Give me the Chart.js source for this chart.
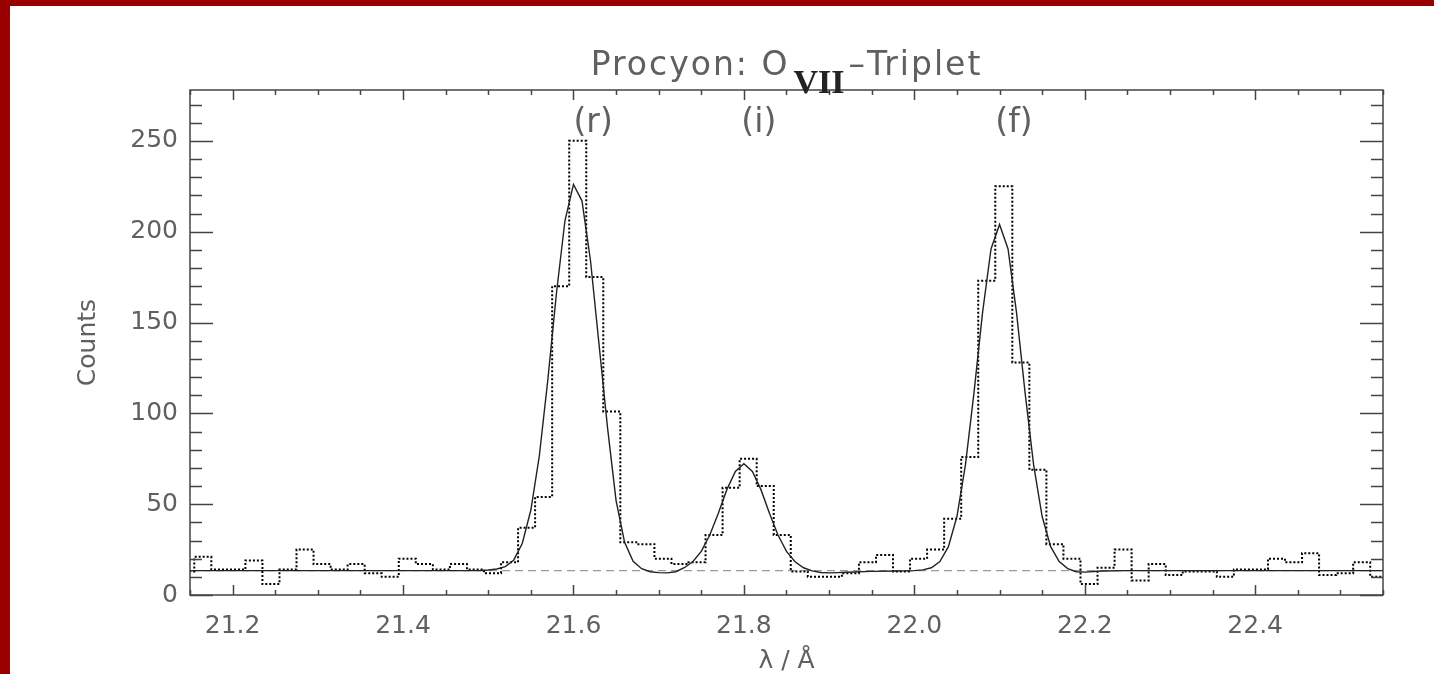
<!DOCTYPE html>
<html>
<head>
<meta charset="utf-8">
<script src="https://cdn.jsdelivr.net/npm/chart.js@4.4.1/dist/chart.umd.min.js"></script>
<style>
  html, body { margin: 0; padding: 0; background: #990000; width: 1434px; height: 674px; overflow: hidden; }
  #wrap { position: absolute; left: 10px; top: 6px; width: 1424px; height: 668px; background: #ffffff; }
  canvas { display: block; }
</style>
</head>
<body>
<div id="wrap"><canvas id="c"></canvas></div>
<script>
// ---------- data ----------
const binCenters = [
  21.145, 21.165, 21.185, 21.205, 21.225, 21.245, 21.265, 21.285, 21.305, 21.325,
  21.345, 21.365, 21.385, 21.405, 21.425, 21.445, 21.465, 21.485, 21.505, 21.525,
  21.545, 21.565, 21.585, 21.605, 21.625, 21.645, 21.665, 21.685, 21.705, 21.725,
  21.745, 21.765, 21.785, 21.805, 21.825, 21.845, 21.865, 21.885, 21.905, 21.925,
  21.945, 21.965, 21.985, 22.005, 22.025, 22.045, 22.065, 22.085, 22.105, 22.125,
  22.145, 22.165, 22.185, 22.205, 22.225, 22.245, 22.265, 22.285, 22.305, 22.325,
  22.345, 22.365, 22.385, 22.405, 22.425, 22.445, 22.465, 22.485, 22.505, 22.525,
  22.545
];
const counts = [
  13, 21, 14, 14, 19, 6, 14, 25, 17, 14,
  17, 12, 10, 20, 17, 14, 17, 14, 12, 18,
  37, 54, 170, 250, 175, 101, 29, 28, 20, 17,
  18, 33, 59, 75, 60, 33, 13, 10, 10, 12,
  18, 22, 13, 20, 25, 42, 76, 173, 225, 128,
  69, 28, 20, 6, 15, 25, 8, 17, 11, 13,
  13, 10, 14, 14, 20, 18, 23, 11, 12, 18,
  10
];
const binWidth = 0.02;

const fitX = [
  21.15, 21.49, 21.50, 21.51, 21.52, 21.53, 21.54, 21.55, 21.56, 21.57,
  21.58, 21.59, 21.60, 21.61, 21.62, 21.63, 21.64, 21.65, 21.66, 21.67,
  21.68, 21.69, 21.70, 21.71, 21.72, 21.73, 21.74, 21.75, 21.76, 21.77,
  21.78, 21.79, 21.80, 21.81, 21.82, 21.83, 21.84, 21.85, 21.86, 21.87,
  21.88, 21.89, 21.90, 21.91, 21.92, 21.95, 21.98, 22.00, 22.01, 22.02,
  22.03, 22.04, 22.05, 22.06, 22.07, 22.08, 22.09, 22.10, 22.11, 22.12,
  22.13, 22.14, 22.15, 22.16, 22.17, 22.18, 22.19, 22.20, 22.22, 22.25,
  22.55
];
const fitY = [
  13.4, 13.5, 13.8, 14.3, 15.6, 19.3, 28.5, 46.8, 76.8, 118.8,
  166, 206, 226, 217, 184, 138, 92, 52, 29, 18.5,
  14.5, 12.8, 12.3, 12.2, 12.8, 15.0, 18.3, 24, 33, 45,
  58, 68, 72.3, 68, 58, 45, 33, 24, 18.3, 15.0,
  13.3, 12.4, 12.2, 12.3, 12.5, 13.0, 13.2, 13.4, 13.8, 15.0,
  18.4, 26.6, 43.2, 71.6, 111.3, 155.2, 190.5, 204, 190.5, 155.2,
  111.3, 71.6, 43.2, 26.6, 18.4, 14.5, 12.8, 12.6, 13.2, 13.4,
  13.4
];

const continuumX = [21.15, 22.55];
const continuumY = [13.4, 13.4];

const xTickLabels = [21.2, 21.4, 21.6, 21.8, 22.0, 22.2, 22.4];
const yTickLabels = [0, 50, 100, 150, 200, 250];
const xMinorStep = 0.05;
const yMinorStep = 10;

const lineLabels = ['(r)', '(i)', '(f)'];
const lineLabelX = [21.600, 21.797, 22.095];
const lineLabelY = [255, 255, 255];

const titleMain = 'Procyon: O';
const titleSub = 'VII';
const titleRest = '\u2013Triplet';

// ---------- build ----------
const histData = binCenters.map((c, i) => ({ x: c - binWidth / 2, y: counts[i] }));
histData.push({ x: binCenters[binCenters.length - 1] + binWidth / 2, y: counts[counts.length - 1] });
const fitData = fitX.map((x, i) => ({ x, y: fitY[i] }));
const contData = continuumX.map((x, i) => ({ x, y: continuumY[i] }));

const TEXT = '#606060';
const AXIS = '#444444';
const FONT = '"DejaVu Sans", sans-serif';

const framePlugin = {
  id: 'idlFrame',
  afterDraw(chart) {
    const { ctx, chartArea: a, scales } = chart;
    const xs = scales.x, ys = scales.y;
    ctx.save();
    ctx.strokeStyle = AXIS;
    ctx.lineWidth = 1.5;
    ctx.strokeRect(a.left, a.top, a.right - a.left, a.bottom - a.top);

    // x ticks (top and bottom, inward)
    const nx = Math.round((xs.max - xs.min) / xMinorStep);
    for (let i = 0; i <= nx; i++) {
      const v = xs.min + i * xMinorStep;
      const major = xTickLabels.some(t => Math.abs(t - v) < 1e-6);
      const len = major ? 10 : 5;
      const px = Math.round(xs.getPixelForValue(v)) + 0.5;
      ctx.beginPath();
      ctx.moveTo(px, a.bottom); ctx.lineTo(px, a.bottom - len);
      ctx.moveTo(px, a.top); ctx.lineTo(px, a.top + len);
      ctx.stroke();
    }
    // y ticks (left and right, inward)
    const ny = Math.floor((ys.max - ys.min) / yMinorStep);
    for (let i = 0; i <= ny; i++) {
      const v = ys.min + i * yMinorStep;
      const major = yTickLabels.some(t => Math.abs(t - v) < 1e-6);
      const len = major ? 23 : 12;
      const py = Math.round(ys.getPixelForValue(v)) + 0.5;
      ctx.beginPath();
      ctx.moveTo(a.left, py); ctx.lineTo(a.left + len, py);
      ctx.moveTo(a.right, py); ctx.lineTo(a.right - len, py);
      ctx.stroke();
    }

    // line labels
    ctx.fillStyle = TEXT;
    ctx.font = '33px ' + FONT;
    ctx.textAlign = 'left';
    ctx.textBaseline = 'alphabetic';
    lineLabels.forEach((t, i) => {
      ctx.fillText(t, xs.getPixelForValue(lineLabelX[i]), ys.getPixelForValue(lineLabelY[i]));
    });

    // title with subscript
    const mainFont = '33px ' + FONT;
    const subFont = 'bold 34px "Liberation Serif", "DejaVu Serif", serif';
    try { ctx.letterSpacing = '2px'; } catch (e) {}
    ctx.font = mainFont;
    const w1 = ctx.measureText(titleMain).width;
    const w3 = ctx.measureText(titleRest).width;
    try { ctx.letterSpacing = '0px'; } catch (e) {}
    ctx.font = subFont;
    const w2 = ctx.measureText(titleSub).width;
    const gap = 4;
    const total = w1 + gap + w2 + gap + w3;
    let x0 = (a.left + a.right) / 2 - total / 2;
    const base = a.top - 15;
    try { ctx.letterSpacing = '2px'; } catch (e) {}
    ctx.font = mainFont;
    ctx.fillStyle = TEXT;
    ctx.fillText(titleMain, x0, base);
    try { ctx.letterSpacing = '0px'; } catch (e) {}
    ctx.font = subFont;
    ctx.fillStyle = '#222222';
    ctx.fillText(titleSub, x0 + w1 + gap, base + 18);
    try { ctx.letterSpacing = '2px'; } catch (e) {}
    ctx.font = mainFont;
    ctx.fillStyle = TEXT;
    ctx.fillText(titleRest, x0 + w1 + gap + w2 + gap, base);
    try { ctx.letterSpacing = '0px'; } catch (e) {}
    ctx.restore();
  }
};

new Chart(document.getElementById('c'), {
  type: 'line',
  data: {
    datasets: [
      { label: 'fit', data: fitData, borderColor: '#222222', borderWidth: 1.4,
        pointRadius: 0, tension: 0, fill: false },
      { label: 'counts', data: histData, stepped: 'before', borderColor: '#000000',
        borderWidth: 2, borderDash: [2, 2], pointRadius: 0, fill: false },
      { label: 'continuum', data: contData, borderColor: '#9a9a9a', borderWidth: 1.2,
        borderDash: [8, 5], pointRadius: 0, fill: false }
    ]
  },
  options: {
    responsive: true,
    maintainAspectRatio: false,
    animation: false,
    events: [],
    layout: { padding: { top: 84, right: 51, left: 0, bottom: 0 } },
    plugins: { legend: { display: false }, title: { display: false }, tooltip: { enabled: false } },
    scales: {
      x: {
        type: 'linear', min: 21.15, max: 22.55,
        grid: { display: false, drawTicks: false },
        border: { display: false },
        afterBuildTicks: s => { s.ticks = xTickLabels.map(v => ({ value: v })); },
        afterFit: s => { s.height = 79; },
        ticks: {
          autoSkip: false, maxRotation: 0, padding: 16, color: TEXT,
          font: { family: FONT, size: 25 },
          callback: v => Number(v).toFixed(1)
        },
        title: { display: true, text: '\u03bb / \u00c5', color: TEXT,
          font: { family: FONT, size: 25, lineHeight: 1 }, padding: { top: 0, bottom: 0 } }
      },
      y: {
        type: 'linear', min: 0, max: 278,
        grid: { display: false, drawTicks: false },
        border: { display: false },
        afterBuildTicks: s => { s.ticks = yTickLabels.map(v => ({ value: v })); },
        afterFit: s => { s.width = 180; },
        ticks: {
          autoSkip: false, padding: 12, color: TEXT,
          font: { family: FONT, size: 25 },
          callback: v => String(v)
        },
        title: { display: true, text: 'Counts', color: TEXT,
          font: { family: FONT, size: 25, lineHeight: 1.2 }, padding: { top: 63, bottom: 0 } }
      }
    }
  },
  plugins: [framePlugin]
});
</script>
</body>
</html>
